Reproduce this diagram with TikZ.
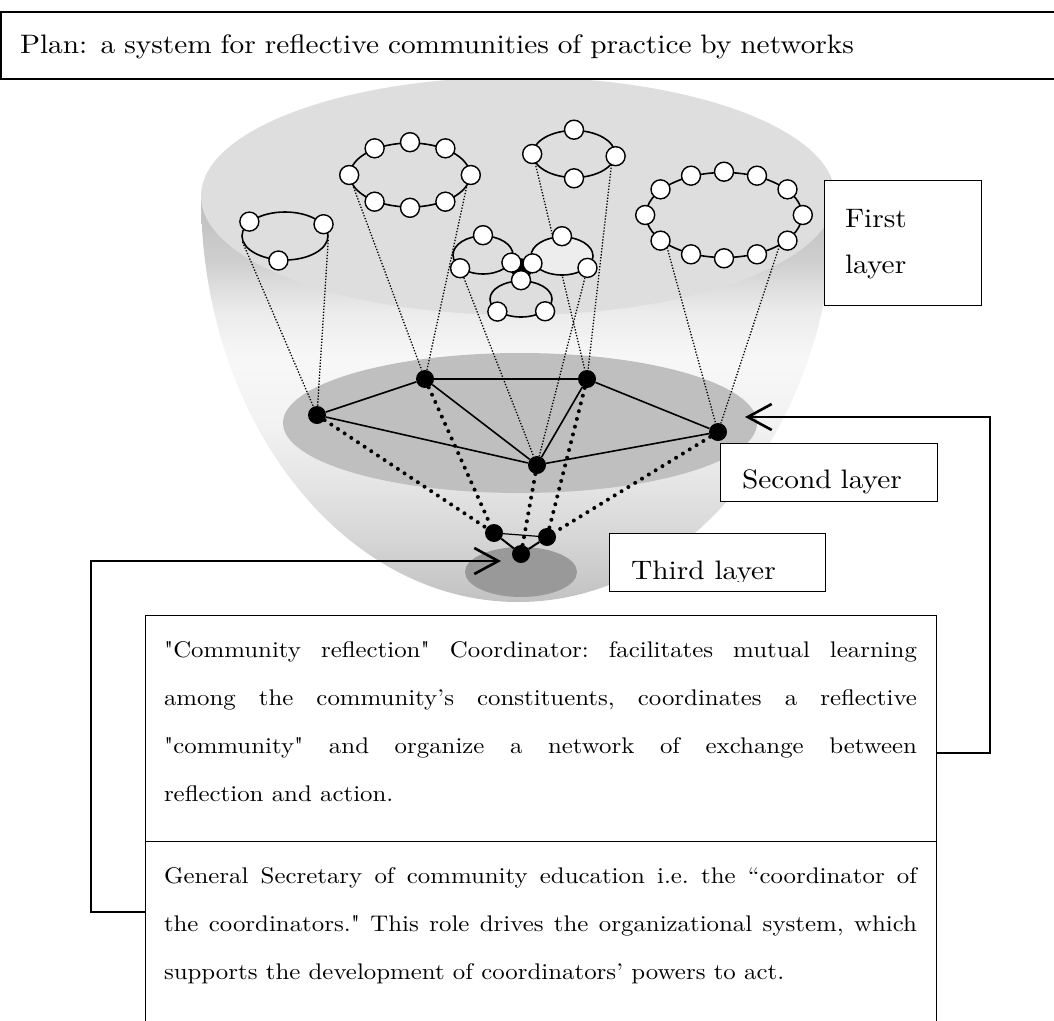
\documentclass[tikz,border=0pt]{standalone}
\usepackage{fontspec}
\setmainfont{lmroman10-regular}[Extension=.otf, FakeStretch=1.1, Ligatures=TeXOff]
\usetikzlibrary{shapes,arrows.meta,positioning}

\newcommand\lblfont{\fontsize{26.7pt}{46pt}\selectfont}
\newcommand\boxfont{\fontsize{22.6pt}{48pt}\selectfont\frenchspacing\sloppy}

\pgfdeclarelayer{bg}
\pgfdeclarelayer{edges}
\pgfsetlayers{bg,edges,main}
\pgfdeclareverticalshading{bowlshade}{100bp}{color(0bp)=(black!24); color(25bp)=(black!24); color(33bp)=(black!16); color(40bp)=(black!10); color(47bp)=(black!5); color(55bp)=(black!3); color(61bp)=(black!8); color(67bp)=(black!19); color(75bp)=(black!26); color(100bp)=(black!26)}

\tikzset{
  member/.style={circle,draw,fill=white,line width=1.4pt,minimum size=19pt,inner sep=0pt},
  hub/.style={circle,fill=black,minimum size=18pt,inner sep=0pt},
  ring/.style={ellipse,draw,line width=1.6pt,fill=black!13,inner sep=0pt},
  feedline/.style={line width=1.3pt,dash pattern=on 1.3pt off 1.7pt},
  hubline/.style={line width=1.6pt},
  tieline/.style={line width=4pt,dash pattern=on 0pt off 8pt,line cap=round},
  lblbox/.style={draw,fill=white,line width=1pt,inner ysep=0pt,outer sep=0pt,align=left,font=\lblfont},
  textbox/.style={draw,line width=1pt,inner xsep=19pt,inner ysep=0pt,outer sep=0pt,text width=753pt,align=justify,font=\boxfont},
  conn/.style={line width=2.6pt,-{Straight Barb[length=24pt,width=26pt]}}
}

\begin{document}
\begin{tikzpicture}[x=1pt,y=-1pt]
\useasboundingbox (0,0) rectangle (1054,1020);

% the bowl
\begin{pgfonlayer}{bg}
\shade[shading=bowlshade] (201,196) arc[start angle=180,end angle=360,x radius=317pt,y radius=406pt] -- cycle;
\fill[black!13] (518,196) ellipse [x radius=317pt,y radius=119pt];
\fill[black!25] (520,423) ellipse [x radius=237pt,y radius=70pt];
\fill[black!40] (521,572) ellipse [x radius=56pt,y radius=25pt];
\end{pgfonlayer}

\node[lblbox,anchor=base west,text width=1030pt,inner xsep=19pt,text height=41pt,text depth=26pt,line width=1.3pt] (title) at (1,53) {Plan: a system for reflective communities of practice by networks};

% first layer
\node[ring,minimum width=86pt,minimum height=48pt] (ringa) at (285,236) {};
\node[ring,minimum width=120pt,minimum height=64pt] (ringb) at (410,175) {};
\node[ring,minimum width=82pt,minimum height=47pt] (ringc) at (574,154) {};
\node[ring,minimum width=156pt,minimum height=85pt] (ringd) at (724,215) {};
\node[ring,minimum width=60pt,minimum height=38pt] (ringl) at (483,255) {};
\node[ring,fill=black!7,minimum width=62pt,minimum height=38pt] (ringr) at (562,256) {};
\node[ring,minimum width=62pt,minimum height=36pt] (ringm) at (521,299) {};
\fill[draw,line width=9pt,line join=round] (ringl.-15) -- (ringr.194) -- (ringm.90) -- cycle;

\node[member] (ringa-1) at (ringa.158) {};
\node[member] (ringa-2) at (ringa.17) {};
\node[member] (ringa-3) at (ringa.255) {};

\node[member] (ringb-1) at (ringb.0) {};
\node[member] (ringb-2) at (ringb.37) {};
\node[member] (ringb-3) at (ringb.90) {};
\node[member] (ringb-4) at (ringb.143) {};
\node[member] (ringb-5) at (ringb.180) {};
\node[member] (ringb-6) at (ringb.217) {};
\node[member] (ringb-7) at (ringb.270) {};
\node[member] (ringb-8) at (ringb.323) {};

\node[member] (ringc-1) at (ringc.-3) {};
\node[member] (ringc-2) at (ringc.90) {};
\node[member] (ringc-3) at (ringc.180) {};
\node[member] (ringc-4) at (ringc.270) {};

\node[member] (ringd-1) at (ringd.0) {};
\node[member] (ringd-2) at (ringd.22) {};
\node[member] (ringd-3) at (ringd.50) {};
\node[member] (ringd-4) at (ringd.90) {};
\node[member] (ringd-5) at (ringd.130) {};
\node[member] (ringd-6) at (ringd.158) {};
\node[member] (ringd-7) at (ringd.180) {};
\node[member] (ringd-8) at (ringd.202) {};
\node[member] (ringd-9) at (ringd.230) {};
\node[member] (ringd-10) at (ringd.270) {};
\node[member] (ringd-11) at (ringd.310) {};
\node[member] (ringd-12) at (ringd.338) {};

\node[member] (ringl-1) at (ringl.90) {};
\node[member] (ringl-2) at (ringl.210) {};
\node[member] (ringl-3) at (ringl.-15) {};
\node[member] (ringr-1) at (ringr.90) {};
\node[member] (ringr-2) at (ringr.194) {};
\node[member] (ringr-3) at (ringr.-25) {};
\node[member] (ringm-1) at (ringm.90) {};
\node[member] (ringm-2) at (ringm.208) {};
\node[member] (ringm-3) at (ringm.-27) {};

% second and third layer
\node[hub] (sa) at (317,415) {};
\node[hub] (sb) at (425,379) {};
\node[hub] (sc) at (587,379) {};
\node[hub] (sd) at (537,465) {};
\node[hub] (se) at (718,432) {};
\node[hub] (ta) at (494,533) {};
\node[hub] (tb) at (547,537) {};
\node[hub] (tc) at (521,554) {};

\begin{pgfonlayer}{edges}
\draw[feedline] (ringa.188) -- (sa);
\draw[feedline] (ringa.-5) -- (sa);
\draw[feedline] (ringb.192) -- (sb);
\draw[feedline] (ringb.-12) -- (sb);
\draw[feedline] (ringc.193) -- (sc);
\draw[feedline] (ringc.-16) -- (sc);
\draw[feedline] (ringd.207) -- (se);
\draw[feedline] (ringd.-29) -- (se);
\draw[feedline] (ringl-2) -- (sd);
\draw[feedline] (ringr-3) -- (sd);

\draw[hubline] (sa) -- (sb) -- (sc) -- (se) -- (sd) -- (sa);
\draw[hubline] (sb) -- (sd) -- (sc);
\draw[tieline] (sa) -- (ta);
\draw[tieline] (sb) -- (ta);
\draw[tieline] (sc) -- (tb);
\draw[tieline] (sd) -- (tc);
\draw[tieline] (se) -- (tb);
\draw[line width=1.2pt] (ta) -- (tb);
\draw[line width=2pt] (ta) -- (tc) -- (tb);
\end{pgfonlayer}

% labels
\node[lblbox,anchor=base west,text width=115pt,inner xsep=21pt,text height=47pt,text depth=78pt] (first) at (824,227) {First\\layer};
\node[lblbox,anchor=base west,text width=173pt,inner xsep=22pt,text height=45pt,text depth=13pt] (second) at (720,488) {Second layer};
\node[lblbox,anchor=north west,minimum width=216pt,minimum height=58pt] (third) at (609,533) {};
\begin{scope}
\clip (609,533) rectangle (825,581);
\node[anchor=base west,inner sep=0pt,font=\lblfont] (thirdtext) at (631,579) {Third layer};
\end{scope}

\node[textbox,anchor=base west,text height=42pt,text depth=184pt] (recbox) at (145,657) {"Community reflection" Coordinator: facilitates mutual learning\linebreak among the community’s constituents, coordinates a reflective\linebreak "community" and organize a network of exchange between\linebreak reflection and action.};
\node[textbox,anchor=base west,text height=42pt,text depth=200pt] (genbox) at (145,883) {General Secretary of community education i.e. the “coordinator of\linebreak the coordinators." This role drives the organizational system, which\linebreak supports the development of coordinators’ powers to act.};

\coordinate (thirdtip) at (501,561);
\coordinate (secondtip) at (745,417);
\draw[conn] ([yshift=-71pt]genbox.north west) -| ([xshift=-410pt]thirdtip) -- (thirdtip);
\draw[conn] ([yshift=-25pt]recbox.east) -| ([xshift=245pt]secondtip) -- (secondtip);

\end{tikzpicture}
\end{document}
